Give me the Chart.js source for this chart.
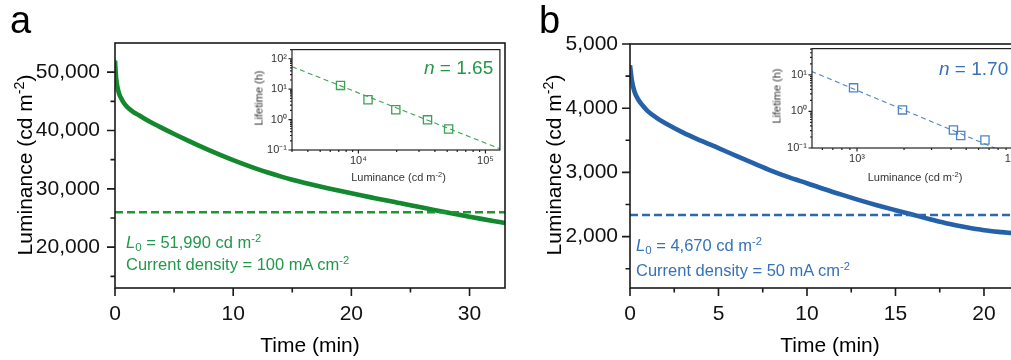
<!DOCTYPE html>
<html>
<head>
<meta charset="utf-8">
<script src="https://cdn.jsdelivr.net/npm/chart.js@4.4.1/dist/chart.umd.min.js"></script>
<style>
  html, body { margin: 0; padding: 0; background: #fff; overflow: hidden; }
  #wrap { position: relative; width: 1011px; height: 360px; overflow: hidden; font-family: "Liberation Sans", Arial, sans-serif; }
  canvas { position: absolute; }
  .t { position: absolute; white-space: nowrap; line-height: 1; }
  .rot { transform: translate(-50%, -50%) rotate(-90deg); }
  .ctr { transform: translate(-50%, -50%); }
  .sp { font-size: 0.68em; position: relative; top: -0.55em; }
  .sb { font-size: 0.7em; position: relative; top: 0.3em; }
  .ga { color: #21984a; }
  .bl { color: #3672b9; }
</style>
</head>
<body>
<div id="wrap">
  <canvas id="mainA" width="520" height="360" style="left:0;top:0"></canvas>
  <canvas id="insetA" width="262" height="150" style="left:245px;top:38px"></canvas>
  <canvas id="mainB" width="520" height="360" style="left:520px;top:0"></canvas>
  <canvas id="insetB" width="275" height="150" style="left:765px;top:37px"></canvas>

  <div class="t" style="left:10px;top:1px;font-size:38px">a</div>
  <div class="t" style="left:539px;top:1px;font-size:38px">b</div>

  <div class="t rot" style="left:23.5px;top:165px;font-size:21px">Luminance (cd m<span class="sp">-2</span>)</div>
  <div class="t ctr" style="left:310px;top:343.5px;font-size:21px">Time (min)</div>
  <div class="t rot" style="left:553px;top:165px;font-size:21px">Luminance (cd m<span class="sp">-2</span>)</div>
  <div class="t ctr" style="left:830px;top:343.5px;font-size:21px">Time (min)</div>

  <div class="t ga" style="left:126px;top:234px;font-size:16.5px"><i>L</i><span class="sb">0</span> = 51,990 cd m<span class="sp">-2</span></div>
  <div class="t ga" style="left:126px;top:256px;font-size:16.5px">Current density = 100 mA cm<span class="sp">-2</span></div>
  <div class="t bl" style="left:636px;top:237px;font-size:16.5px"><i>L</i><span class="sb">0</span> = 4,670 cd m<span class="sp">-2</span></div>
  <div class="t bl" style="left:636px;top:262px;font-size:16.5px">Current density = 50 mA cm<span class="sp">-2</span></div>

  <div class="t ga" style="left:424px;top:58px;font-size:19px"><i>n</i> = 1.65</div>
  <div class="t bl" style="left:939px;top:59px;font-size:19px"><i>n</i> = 1.70</div>

  <div class="t rot" style="left:259px;top:97.5px;font-size:11px;color:#333">Lifetime (h)</div>
  <div class="t ctr" style="left:398.5px;top:176.7px;font-size:11px;color:#333">Luminance (cd m<span class="sp">-2</span>)</div>
  <div class="t rot" style="left:777px;top:96px;font-size:11px;color:#333">Lifetime (h)</div>
  <div class="t ctr" style="left:915px;top:176.7px;font-size:11px;color:#333">Luminance (cd m<span class="sp">-2</span>)</div>
</div>

<script>
// panel a: luminance decay at 100 mA cm-2
const timeA = [0, 0.05, 0.1, 0.2, 0.35, 0.5, 0.75, 1, 1.5, 2, 3, 4, 5, 6, 7, 8, 9, 10, 11, 12, 13, 14, 15, 16, 17, 18, 19, 20, 21, 22, 23, 24, 25, 26, 27, 28, 29, 30, 31, 32, 33];
const lumA = [51990, 50200, 48900, 47500, 46300, 45600, 44700, 44100, 43250, 42650, 41450, 40400, 39400, 38430, 37500, 36600, 35740, 34920, 34150, 33430, 32760, 32140, 31570, 31050, 30560, 30100, 29660, 29230, 28810, 28400, 27990, 27590, 27190, 26790, 26390, 25990, 25600, 25220, 24850, 24490, 24140];
const halfTimeA = [0, 33];
const halfLumA = [25995, 25995];
const xTicksA = [0, 10, 20, 30];
const xMinorA = [5, 15, 25];
const yTicksA = [20000, 30000, 40000, 50000];
const yMinorA = [15000, 25000, 35000, 45000];

// panel a inset: lifetime vs luminance
const insetLumA = [7230, 11900, 19700, 35000, 51300];
const insetLifeA = [13.3, 4.5, 2.1, 0.98, 0.49];
const fitLumA = [3000, 130000];
const fitLifeA = [55, 0.11];
const insetXTicksA = [10000, 100000];
const insetYTicksA = [0.1, 1, 10, 100];

// panel b: luminance decay at 50 mA cm-2
const timeB = [0, 0.1, 0.25, 0.5, 0.75, 1, 1.5, 2, 3, 4, 5, 6, 7, 8, 9, 10, 11, 12, 13, 14, 15, 16, 17, 18, 19, 20, 21, 22, 22.6];
const lumB = [4670, 4440, 4260, 4120, 4030, 3955, 3850, 3765, 3620, 3495, 3378, 3258, 3140, 3025, 2922, 2832, 2738, 2650, 2565, 2486, 2412, 2340, 2268, 2200, 2145, 2100, 2070, 2045, 2030];
const halfTimeB = [0, 22.6];
const halfLumB = [2335, 2335];
const xTicksB = [0, 5, 10, 15, 20];
const xMinorB = [2.5, 7.5, 12.5, 17.5];
const yTicksB = [2000, 3000, 4000, 5000];
const yMinorB = [1500, 2500, 3500, 4500];

// panel b inset
const insetLumB = [950, 1955, 4140, 4610, 6590];
const insetLifeB = [4.4, 1.1, 0.31, 0.22, 0.166];
const fitLumB = [510, 8500];
const fitLifeB = [12.5, 0.082];
const insetXTicksB = [1000, 10000];
const insetYTicksB = [0.1, 1, 10];

const ff = '"Liberation Sans", Arial, sans-serif';
const supDigits = { '-': '⁻', '0': '⁰', '1': '¹', '2': '²', '3': '³', '4': '⁴', '5': '⁵' };
const pow10 = v => '10' + String(Math.round(Math.log10(v))).split('').map(c => supDigits[c]).join('');
const pts = (xs, ys) => xs.map((x, i) => ({ x: x, y: ys[i] }));

function logMinor(min, max) {
  const out = [];
  for (let e = Math.floor(Math.log10(min)); e <= Math.ceil(Math.log10(max)); e++) {
    for (let k = 2; k <= 9; k++) {
      const v = k * Math.pow(10, e);
      if (v >= min && v <= max) out.push(v);
    }
  }
  return out;
}

// frame + outward tick marks (major/minor) drawn on the scales
const frameTicks = {
  id: 'frameTicks',
  beforeDraw(chart, args, o) {
    if (!o.fill) return;
    const a = chart.chartArea, ctx = chart.ctx;
    ctx.save();
    ctx.fillStyle = o.fill;
    ctx.fillRect(a.left, a.top, a.right - a.left, a.bottom - a.top);
    ctx.restore();
  },
  afterDraw(chart, args, o) {
    const { ctx, chartArea: a, scales } = chart;
    ctx.save();
    ctx.strokeStyle = o.color;
    ctx.lineWidth = o.width;
    ctx.beginPath();
    const tick = (axis, v, len) => {
      const p = scales[axis].getPixelForValue(v);
      if (axis === 'x') {
        if (p < a.left - 1 || p > a.right + 1) return;
        ctx.moveTo(p, a.bottom); ctx.lineTo(p, a.bottom + len);
      } else {
        if (p < a.top - 1 || p > a.bottom + 1) return;
        ctx.moveTo(a.left, p); ctx.lineTo(a.left - len, p);
      }
    };
    o.xMajor.forEach(v => tick('x', v, o.majorLen));
    o.xMinor.forEach(v => tick('x', v, o.minorLen));
    o.yMajor.forEach(v => tick('y', v, o.majorLen));
    o.yMinor.forEach(v => tick('y', v, o.minorLen));
    ctx.stroke();
    ctx.strokeRect(a.left, a.top, a.right - a.left, a.bottom - a.top);
    ctx.restore();
  }
};

function mainChart(id, p) {
  return new Chart(document.getElementById(id), {
    type: 'line',
    data: {
      datasets: [
        { data: pts(p.halfX, p.halfY), borderColor: p.dash, borderWidth: 2.5, borderDash: [8, 4], pointRadius: 0 },
        { data: pts(p.time, p.lum), borderColor: p.color, borderWidth: 4.6, pointRadius: 0, cubicInterpolationMode: 'monotone' }
      ]
    },
    plugins: [frameTicks],
    options: {
      responsive: false,
      animation: false,
      events: [],
      layout: { padding: p.pad },
      plugins: {
        legend: { display: false },
        tooltip: { enabled: false },
        frameTicks: { color: '#1a1a1a', width: 1.6, majorLen: 8, minorLen: 4.5,
          xMajor: p.xTicks, xMinor: p.xMinor, yMajor: p.yTicks, yMinor: p.yMinor }
      },
      scales: {
        x: {
          type: 'linear', min: 0, max: p.xMax,
          grid: { display: false, drawTicks: false }, border: { display: false },
          afterBuildTicks: s => { s.ticks = p.xTicks.map(v => ({ value: v })); },
          afterFit: s => { s.height = 72; },
          ticks: { autoSkip: false, maxRotation: 0, padding: 14, color: '#111', font: { family: ff, size: 21 }, callback: v => String(v) }
        },
        y: {
          type: 'linear', min: p.yMin, max: p.yMax,
          grid: { display: false, drawTicks: false }, border: { display: false },
          afterBuildTicks: s => { s.ticks = p.yTicks.map(v => ({ value: v })); },
          afterFit: s => { s.width = p.yW; },
          ticks: { autoSkip: false, padding: p.yPad, color: '#111', font: { family: ff, size: 21 }, callback: v => v.toLocaleString('en-US') }
        }
      }
    }
  });
}

function insetChart(id, p) {
  return new Chart(document.getElementById(id), {
    type: 'line',
    data: {
      datasets: [
        { data: pts(p.lum, p.life), showLine: false, pointStyle: 'rect', pointRadius: 5.8, borderColor: p.color, backgroundColor: 'rgba(255,255,255,0)', borderWidth: 1.3 },
        { data: pts(p.fitX, p.fitY), borderColor: p.color, borderWidth: 1.1, borderDash: [5, 3.5], pointRadius: 0 }
      ]
    },
    plugins: [frameTicks],
    options: {
      responsive: false,
      animation: false,
      events: [],
      layout: { padding: p.pad },
      plugins: {
        legend: { display: false },
        tooltip: { enabled: false },
        frameTicks: { fill: '#fff', color: '#222', width: 1.2, majorLen: 3.5, minorLen: 2,
          xMajor: p.xTicks, xMinor: logMinor(p.xMin, p.xMax), yMajor: p.yTicks, yMinor: logMinor(p.yMin, p.yMax) }
      },
      scales: {
        x: {
          type: 'logarithmic', min: p.xMin, max: p.xMax,
          grid: { display: false, drawTicks: false }, border: { display: false },
          afterBuildTicks: s => { s.ticks = p.xTicks.map(v => ({ value: v })); },
          afterFit: s => { s.height = p.xH; },
          ticks: { autoSkip: false, maxRotation: 0, padding: 4, color: '#333', font: { family: ff, size: 11 }, callback: v => pow10(v) }
        },
        y: {
          type: 'logarithmic', min: p.yMin, max: p.yMax,
          grid: { display: false, drawTicks: false }, border: { display: false },
          afterBuildTicks: s => { s.ticks = p.yTicks.map(v => ({ value: v })); },
          afterFit: s => { s.width = 47; },
          ticks: { autoSkip: false, padding: 5, color: '#333', font: { family: ff, size: 11 }, callback: v => pow10(v) }
        }
      }
    }
  });
}

mainChart('mainA', {
  time: timeA, lum: lumA, halfX: halfTimeA, halfY: halfLumA,
  color: '#13882e', dash: '#1b9a2c',
  xMax: 33, yMin: 13000, yMax: 55000, yW: 115, yPad: 15,
  xTicks: xTicksA, xMinor: xMinorA, yTicks: yTicksA, yMinor: yMinorA,
  pad: { top: 43, right: 15, left: 0, bottom: 0 }
});

insetChart('insetA', {
  lum: insetLumA, life: insetLifeA, fitX: fitLumA, fitY: fitLifeA,
  color: '#3aa157', xMin: 3000, xMax: 130000, yMin: 0.1, yMax: 200,
  xTicks: insetXTicksA, yTicks: insetYTicksA, xH: 38,
  pad: { top: 7, right: 2, left: 0, bottom: 0 }
});

mainChart('mainB', {
  time: timeB, lum: lumB, halfX: halfTimeB, halfY: halfLumB,
  color: '#2561a9', dash: '#2c68b2',
  xMax: 22.6, yMin: 1200, yMax: 5000, yW: 110, yPad: 12,
  xTicks: xTicksB, xMinor: xMinorB, yTicks: yTicksB, yMinor: yMinorB,
  pad: { top: 44, right: 10, left: 0, bottom: 0 }
});

insetChart('insetB', {
  lum: insetLumB, life: insetLifeB, fitX: fitLumB, fitY: fitLifeB,
  color: '#4f84c4', xMin: 515, xMax: 12800, yMin: 0.1, yMax: 52,
  xTicks: insetXTicksB, yTicks: insetYTicksB, xH: 39,
  pad: { top: 7, right: 10, left: 0, bottom: 0 }
});
</script>
</body>
</html>
